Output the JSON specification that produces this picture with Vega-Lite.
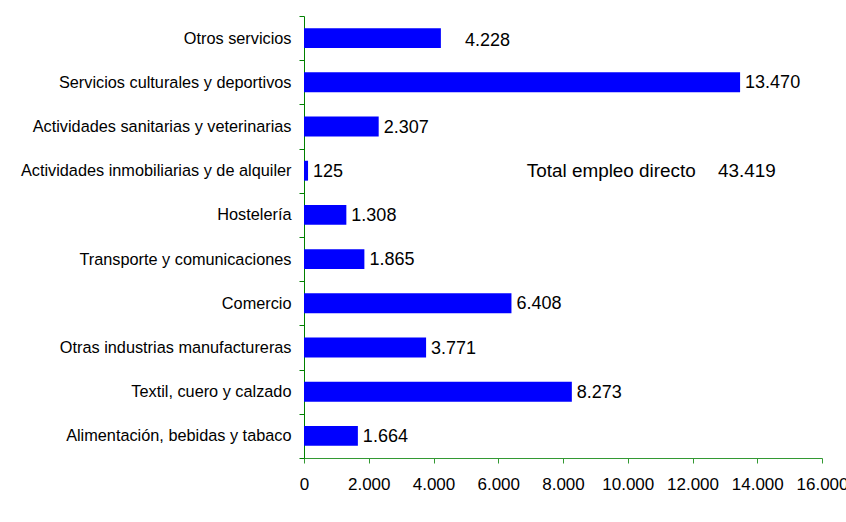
{
  "$schema": "https://vega.github.io/schema/vega-lite/v6.json",
  "width": 518,
  "height": 442,
  "autosize": {"type": "none"},
  "padding": {"left": 304, "top": 16, "right": 24, "bottom": 64},
  "background": "white",
  "config": {
    "font": "Liberation Sans",
    "view": {"stroke": null},
    "locale": {"number": {"decimal": ",", "thousands": ".", "grouping": [3], "currency": ["", " €"]}}
  },
  "data": {
    "values": [
      {"sector": "Otros servicios", "empleo": 4228},
      {"sector": "Servicios culturales y deportivos", "empleo": 13470},
      {"sector": "Actividades sanitarias y veterinarias", "empleo": 2307},
      {"sector": "Actividades inmobiliarias y de alquiler", "empleo": 125},
      {"sector": "Hostelería", "empleo": 1308},
      {"sector": "Transporte y comunicaciones", "empleo": 1865},
      {"sector": "Comercio", "empleo": 6408},
      {"sector": "Otras industrias manufactureras", "empleo": 3771},
      {"sector": "Textil, cuero y calzado", "empleo": 8273},
      {"sector": "Alimentación, bebidas y tabaco", "empleo": 1664}
    ]
  },
  "layer": [
    {
      "mark": {"type": "bar", "color": "#0000FF", "height": {"band": 0.45}},
      "encoding": {
        "y": {
          "field": "sector",
          "type": "nominal",
          "sort": null,
          "title": null,
          "scale": {"paddingInner": 0, "paddingOuter": 0},
          "axis": {
            "domainColor": "#008000",
            "ticks": true,
            "tickColor": "#008000",
            "tickWidth": 1,
            "tickSize": 5,
            "tickBand": "extent",
            "labelFontSize": 16.3,
            "labelColor": "#000000",
            "labelPadding": 8,
            "labelLimit": 400
          }
        },
        "x": {
          "field": "empleo",
          "type": "quantitative",
          "title": null,
          "scale": {"domain": [0, 16000], "nice": false},
          "axis": {
            "values": [0, 2000, 4000, 6000, 8000, 10000, 12000, 14000, 16000],
            "format": ",d",
            "grid": false,
            "domainColor": "#339933",
            "tickColor": "#339933",
            "tickSize": 5,
            "labelFontSize": 17,
            "labelColor": "#000000",
            "labelPadding": 13,
            "labelFlush": false,
            "labelOverlap": false
          }
        }
      }
    },
    {
      "transform": [{"filter": "datum.sector !== 'Otros servicios'"}],
      "mark": {"type": "text", "align": "left", "baseline": "middle", "dx": 5, "dy": 1, "fontSize": 18, "color": "#000000"},
      "encoding": {
        "y": {"field": "sector", "type": "nominal", "sort": null},
        "x": {"field": "empleo", "type": "quantitative"},
        "text": {"field": "empleo", "type": "quantitative", "format": ",d"}
      }
    },
    {
      "transform": [{"filter": "datum.sector === 'Otros servicios'"}],
      "mark": {"type": "text", "align": "left", "baseline": "middle", "dx": 24, "dy": 3, "fontSize": 18, "color": "#000000"},
      "encoding": {
        "y": {"field": "sector", "type": "nominal", "sort": null},
        "x": {"field": "empleo", "type": "quantitative"},
        "text": {"field": "empleo", "type": "quantitative", "format": ",d"}
      }
    },
    {
      "transform": [{"aggregate": [{"op": "sum", "field": "empleo", "as": "total"}]}],
      "mark": {"type": "text", "align": "left", "baseline": "middle", "fontSize": 18.9, "color": "#000000", "text": "Total empleo directo"},
      "encoding": {
        "x": {"datum": 6880},
        "y": {"datum": "Actividades inmobiliarias y de alquiler", "type": "nominal"}
      }
    },
    {
      "transform": [{"aggregate": [{"op": "sum", "field": "empleo", "as": "total"}]}],
      "mark": {"type": "text", "align": "left", "baseline": "middle", "fontSize": 18.9, "color": "#000000"},
      "encoding": {
        "x": {"datum": 12790},
        "y": {"datum": "Actividades inmobiliarias y de alquiler", "type": "nominal"},
        "text": {"field": "total", "type": "quantitative", "format": ",d"}
      }
    }
  ]
}
